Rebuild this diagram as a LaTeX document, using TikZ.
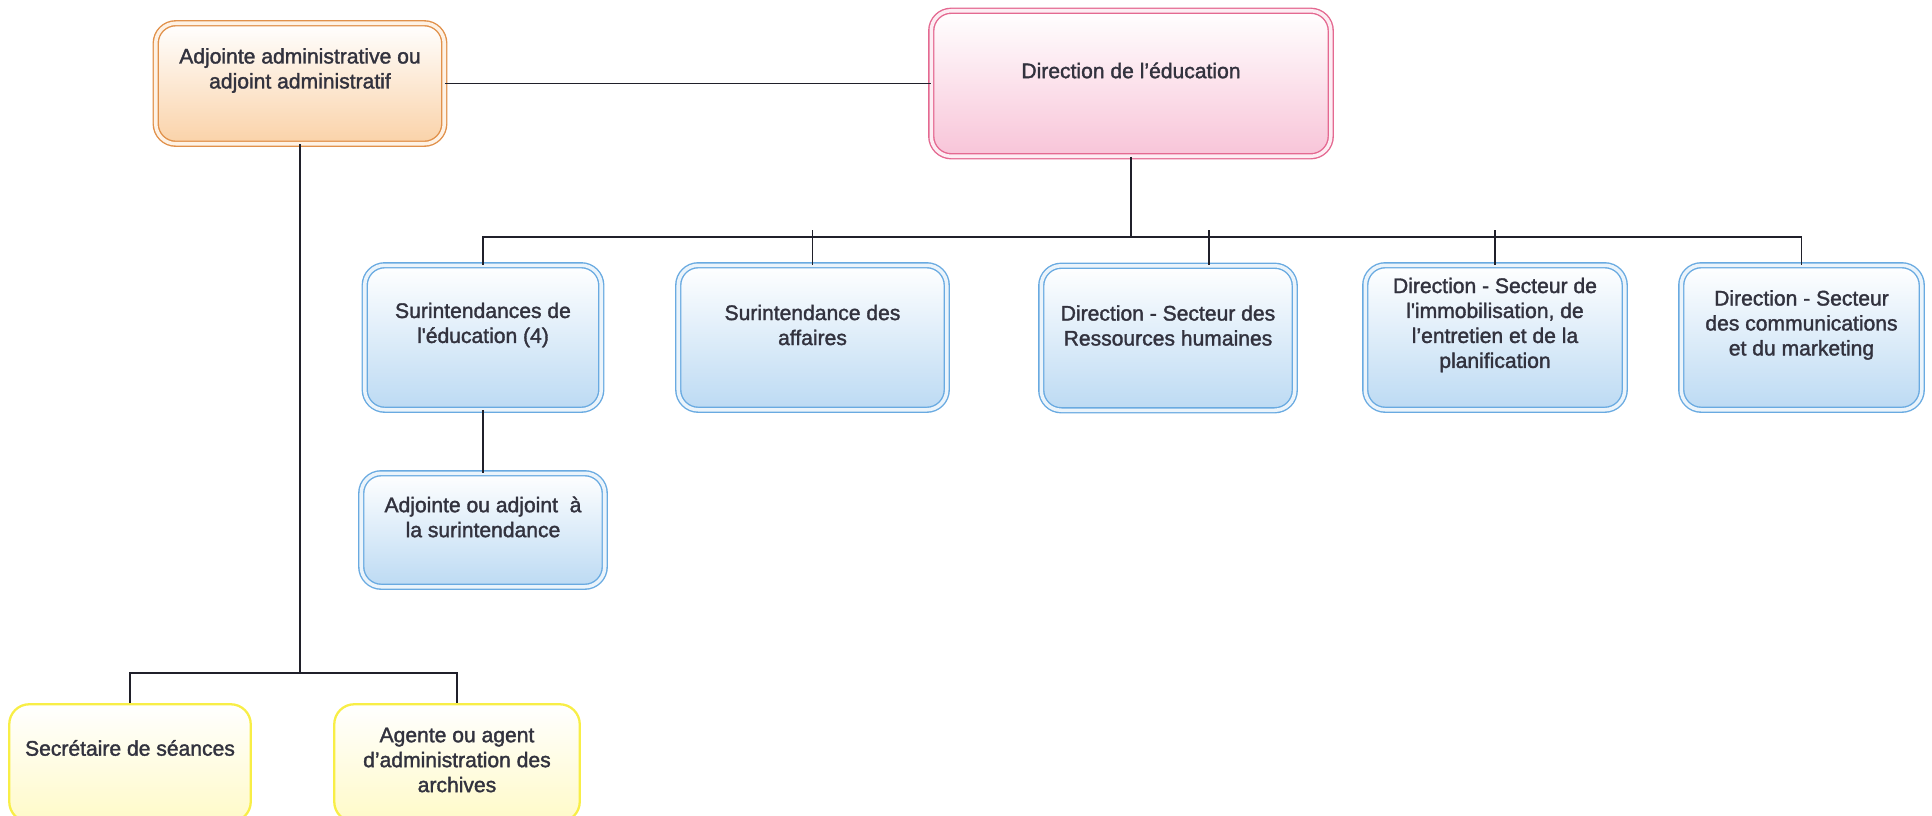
\documentclass[tikz,border=0pt]{standalone}
\usepackage{fontspec}
\setmainfont{Liberation Sans}
\newfontfamily\boxfont{Liberation Sans}[FakeBold=1.6]
\definecolor{txtgray}{RGB}{50,50,62}
\definecolor{linegray}{RGB}{32,32,42}
\definecolor{blueline}{RGB}{105,170,225}
\definecolor{bluefill}{RGB}{188,218,243}
\definecolor{pinkline}{RGB}{228,105,145}
\definecolor{pinkfill}{RGB}{248,196,216}
\definecolor{orangeline}{RGB}{225,145,75}
\definecolor{orangefill}{RGB}{250,210,168}
\definecolor{yellowline}{RGB}{248,238,70}
\definecolor{yellowfill}{RGB}{255,250,200}
\begin{document}
\begin{tikzpicture}[
    box/.style={rounded corners=0.4cm,minimum height=2.89cm,line width=0.8pt,double distance=2pt},
    bluebox/.style={box,draw=blueline,double=bluefill!30,top color=white,bottom color=bluefill},
    pinkbox/.style={box,draw=pinkline,double=pinkfill!30,top color=white,bottom color=pinkfill},
    orangebox/.style={box,draw=orangeline,double=orangefill!30,top color=white,bottom color=orangefill},
    yellowbox/.style={rounded corners=0.4cm,minimum height=2.35cm,draw=yellowline,line width=1.3pt,top color=white,bottom color=yellowfill},
    txt/.style={align=center,text=txtgray,font=\boxfont\fontsize{12pt}{14.2pt}\selectfont},
    link/.style={draw=linegray,line width=1pt}]
    \useasboundingbox(0,0)rectangle(38.64,-16.3);
    \node[orangebox,minimum width=5.77cm,minimum height=2.41cm](adm)at(6.0,-1.67){};
    \node[pinkbox,minimum width=7.99cm,minimum height=2.91cm](dir)at(22.62,-1.67){};
    \node[bluebox,minimum width=4.73cm](surEd)at(9.66,-6.75){};
    \node[bluebox,minimum width=5.37cm](surAff)at(16.25,-6.75){};
    \node[bluebox,minimum width=5.07cm](dirRH)at(23.36,-6.76){};
    \node[bluebox,minimum width=5.19cm](dirImmo)at(29.9,-6.75){};
    \node[bluebox,minimum width=4.81cm](dirCom)at(36.03,-6.75){};
    \node[bluebox,minimum width=4.87cm,minimum height=2.27cm](adjSur)at(9.66,-10.6){};
    \node[yellowbox,minimum width=4.83cm](secr)at(2.6,-15.26){};
    \node[yellowbox,minimum width=4.91cm](arch)at(9.14,-15.26){};
    \node[txt](admT)at([yshift=0.26cm]adm.center){Adjointe administrative ou\\adjoint administratif};
    \node[txt](dirT)at([yshift=0.26cm]dir.center){Direction de l’éducation};
    \node[txt](surEdT)at([yshift=0.25cm]surEd.center){Surintendances de\\l\textquotesingle éducation (4)};
    \node[txt](surAffT)at([yshift=0.25cm]surAff.center){Surintendance des\\affaires};
    \node[txt](dirRHT)at([yshift=0.25cm]dirRH.center){Direction - Secteur des\\Ressources humaines};
    \node[txt](dirImmoT)at([yshift=0.25cm]dirImmo.center){Direction - Secteur de\\l\textquotesingle immobilisation, de\\l’entretien et de la\\planification};
    \node[txt](dirComT)at([yshift=0.25cm]dirCom.center){Direction - Secteur\\des communications\\et du marketing};
    \node[txt](adjSurT)at([yshift=0.26cm]adjSur.center){Adjointe ou adjoint~ à\\la surintendance};
    \node[txt](secrT)at([yshift=0.3cm]secr.center){Secrétaire de séances};
    \node[txt](archT)at([yshift=0.06cm]arch.center){Agente ou agent\\d’administration des\\archives};
    \coordinate(bus)at(0,-4.74);
    \coordinate(busT)at(0,-4.6);
    \coordinate(lowbus)at(0,-13.46);
    \coordinate(rhTick)at([xshift=0.82cm]dirRH.north);
    \draw[link](adm)--(dir);
    \draw[link](dir.south)--(dir.south|-bus);
    \draw[link](surEd.north)--(surEd.north|-bus)--(dirCom.north|-bus)--(dirCom.north);
    \draw[link](surAff.north|-busT)--(surAff.north);
    \draw[link](rhTick|-busT)--(rhTick);
    \draw[link](dirImmo.north|-busT)--(dirImmo.north);
    \draw[link](surEd)--(adjSur);
    \draw[link](adm.south)--(adm.south|-lowbus);
    \draw[link](secr.north)--(secr.north|-lowbus)--(arch.north|-lowbus)--(arch.north);
\end{tikzpicture}
\end{document}
